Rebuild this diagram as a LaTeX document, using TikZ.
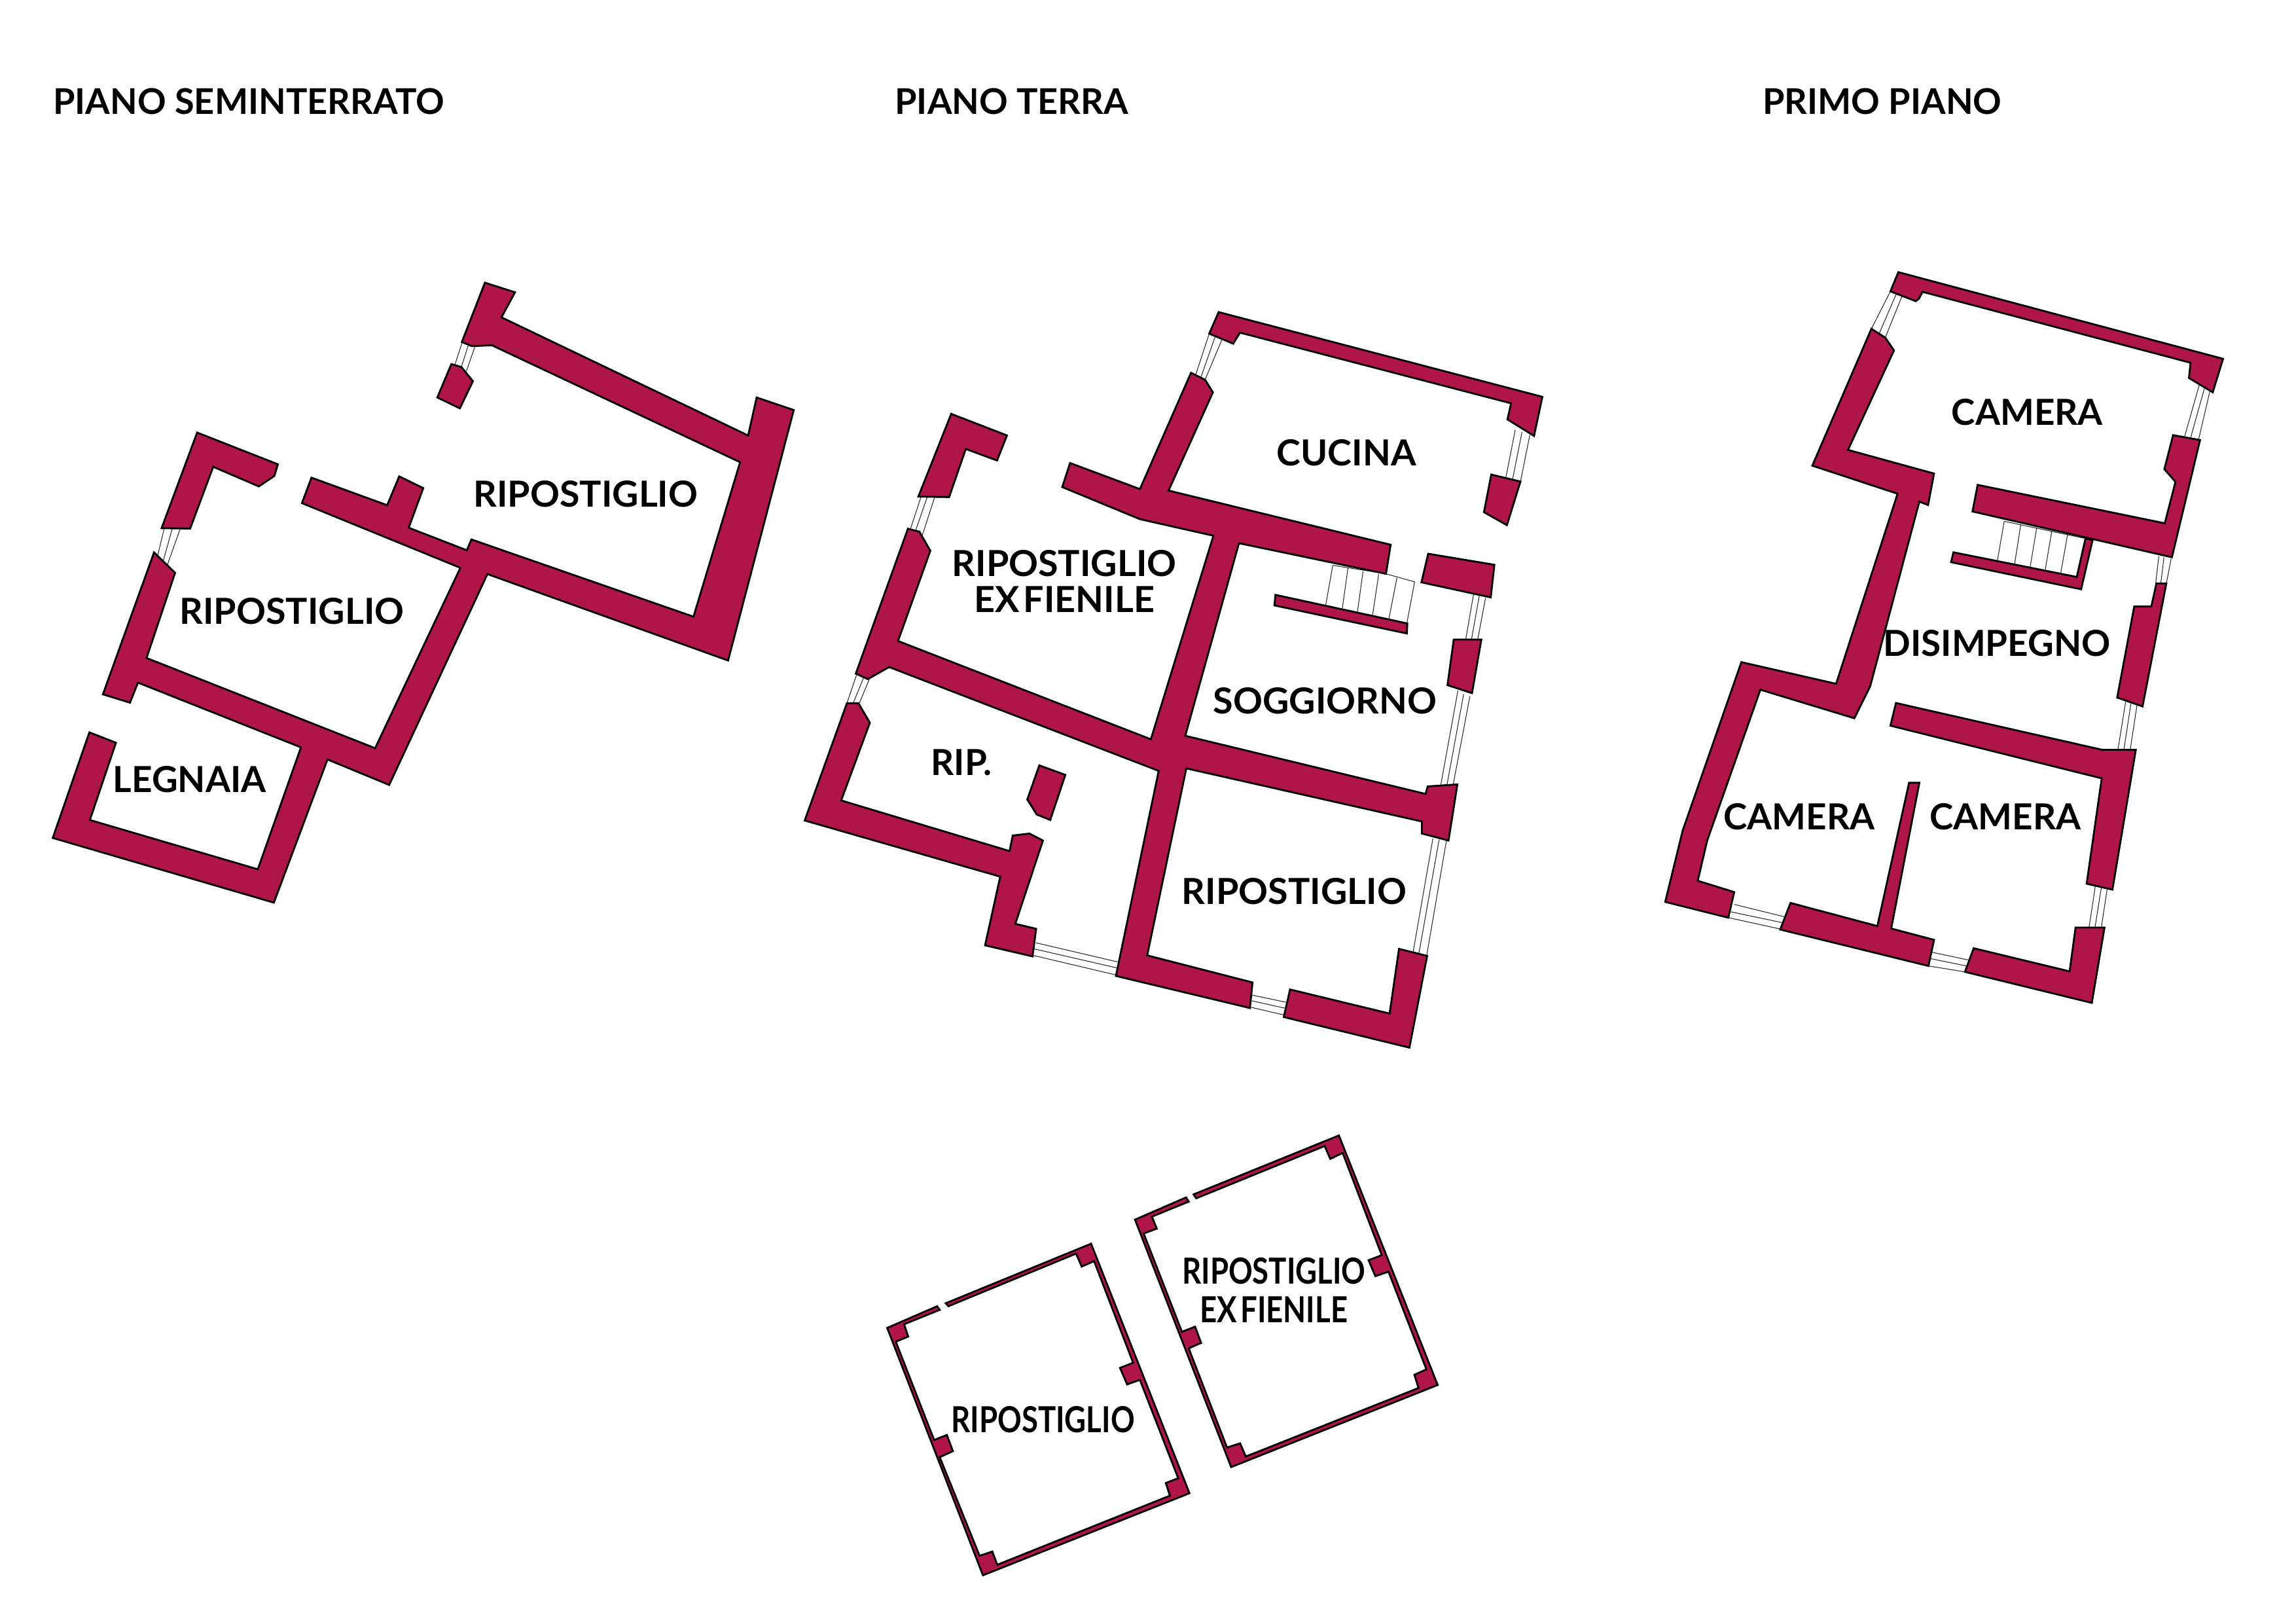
\documentclass[tikz,border=0pt]{standalone}
\usepackage{fontspec}
\setmainfont{Lato}
\definecolor{WallRed}{HTML}{B01548}
\newcommand{\tightspace}{\spaceskip=0.11em\relax}

\begin{document}
\begin{tikzpicture}[
        wall/.style = {draw=black, fill=WallRed, line width=0.8pt},
        glass/.style = {draw=black!85, line width=0.3pt},
        stairline/.style = {draw=black!85, line width=0.3pt},
        title/.style = {anchor=west, font=\bfseries\fontsize{15.4}{18}\selectfont},
        room/.style = {align=center, font=\bfseries\fontsize{15.6}{15.6}\selectfont},
        wideroom/.style = {room, xscale=1.015},
        narrowroom/.style = {align=center, xscale=0.83, font=\bfseries\fontsize{15.6}{16.7}\selectfont}]

    \useasboundingbox (0,0) rectangle (35.08,24.8);

    % Titles
    \node[title] (titleSemi) at (0.69,23.25) {PIANO SEMINTERRATO};
    \node[title] (titleTerra) at (13.55,23.25) {PIANO TERRA};
    \node[title] (titlePrimo) at (26.81,23.25) {PRIMO PIANO};

    % Piano seminterrato
    \begin{scope}[shift={(0.5,20.8)}, x=0.007653cm, y=-0.006378cm]
        \draw[wall] (902,50) -- (962,73) -- (935,133) -- (1427,416) -- (1444,325) -- (1518,355) -- (1387,955) -- (907,748) -- (711,1253) -- (588,1192) -- (481,1535) -- (40,1380) -- (113,1127) -- (166,1152) -- (114,1337) -- (449,1455) -- (535,1163) -- (210,1008) -- (194,1056) -- (140,1036) -- (242,696) -- (284,745) -- (227,949) -- (683,1165) -- (853,733) -- (537,578) -- (556,517) -- (707,583) -- (731,514) -- (779,542) -- (750,637) -- (866,691) -- (875,665) -- (1318,850) -- (1411,480) -- (916,200) -- (876,202) -- (856,192) -- cycle;
        \draw[wall] (835,245) -- (855,252) -- (878,286) -- (852,351) -- (807,325) -- cycle;
        \draw[wall] (328,409) -- (489,485) -- (482,513) -- (451,538) -- (360,491) -- (314,639) -- (257,638) -- cycle;

        % Windows
        \draw[glass] (262,640) -- (249,705) (278,640) -- (260,718) (294,640) -- (268,728);
        \draw[glass] (856,195) -- (842,247) (869,199) -- (855,252) (882,203) -- (865,262);

        \node[wideroom] (ripSemiA) at (1103,556) {RIPOSTIGLIO};
        \node[wideroom] (ripSemiB) at (517,837) {RIPOSTIGLIO};
        \node[room] (legnaia) at (313,1240) {LEGNAIA};
    \end{scope}

    % Piano terra
    \begin{scope}[shift={(12,20.3)}, x=0.007972cm, y=-0.007653cm]
        \draw[wall] (831,35) -- (1452,204) -- (1436,282) -- (1385,249) -- (1392,217) -- (872,76) -- (859,98) -- (813,78) -- cycle;
        \draw[wall] (1354,359) -- (1410,373) -- (1384,460) -- (1340,434) -- cycle;
        \draw[wall] (318,238) -- (425,281) -- (406,331) -- (346,308) -- (314,404) -- (255,403) -- cycle;
        \draw[wall] (778,156) -- (805,170) -- (820,195) -- (735,391) -- (1161,499) -- (1152,557) -- (870,496) -- (767,880) -- (1228,996) -- (1232,981) -- (1289,977) -- (1272,1089) -- (1221,1075) -- (1221,1051) -- (769,945) -- (694,1318) -- (896,1372) -- (891,1423) -- (634,1359) -- (716,950) -- (199,743) -- (158,767) -- (135,756) -- (235,467) -- (257,473) -- (278,511) -- (216,691) -- (701,887) -- (821,481) -- (680,448) -- (531,384) -- (546,336) -- (680,388) -- cycle;
        \draw[wall] (118,815) -- (140,815) -- (162,854) -- (107,1009) -- (430,1110) -- (436,1079) -- (468,1075) -- (494,1089) -- (441,1255) -- (481,1265) -- (474,1320) -- (383,1298) -- (412,1161) -- (37,1049) -- cycle;
        \draw[wall] (487,939) -- (537,958) -- (508,1048) -- (482,1037) -- (464,1007) -- cycle;
        \draw[wall] (968,1386) -- (1159,1434) -- (1177,1305) -- (1231,1319) -- (1197,1502) -- (956,1441) -- cycle;
        \draw[wall] (1233,517) -- (1360,539) -- (1353,604) -- (1220,574) -- cycle;
        \draw[wall] (1282,688) -- (1335,688) -- (1317,795) -- (1270,779) -- cycle;
        \draw[wall] (940,599) -- (1193,656) -- (1192,676) -- (938,620) -- cycle;

        % Stairs
        \draw[stairline] (1050,540) -- (1152,557) (1152,557) -- (1207,573) -- (1192,656);
        \draw[stairline] (1050,540) -- (1036,622) (1079,546) -- (1068,628) (1108,552) -- (1097,635) (1138,558) -- (1126,642) (1173,565) -- (1157,650);

        % Windows
        \draw[glass] (813,78) -- (787,160) (825,82) -- (797,165) (838,88) -- (805,170);
        \draw[glass] (1400,270) -- (1382,365) (1413,274) -- (1395,368) (1428,280) -- (1410,373);
        \draw[glass] (260,404) -- (240,467) (272,404) -- (250,470) (286,405) -- (262,482);
        \draw[glass] (137,757) -- (118,815) (150,764) -- (130,815) (163,762) -- (141,817);
        \draw[glass] (1320,598) -- (1305,688) (1331,601) -- (1316,688) (1343,605) -- (1328,688);
        \draw[glass] (1290,790) -- (1257,979) (1301,797) -- (1269,978) (1313,801) -- (1281,977);
        \draw[glass] (1242,1085) -- (1204,1312) (1254,1087) -- (1215,1315) (1268,1089) -- (1230,1319);
        \draw[glass] (481,1293) -- (637,1331) (477,1305) -- (636,1343) (475,1318) -- (634,1357);
        \draw[glass] (894,1397) -- (963,1412) (892,1408) -- (961,1424) (891,1421) -- (957,1437);

        \node[wideroom] (cucina) at (1076,316) {CUCINA};
        \node[wideroom] (ripFienile) at (535,572) {RIPOSTIGLIO\\\tightspace EX FIENILE};
        \node[wideroom] (soggiorno) at (1035,810) {SOGGIORNO};
        \node[room] (rip) at (338,933) {RIP.};
        \node[wideroom] (ripTerra) at (976,1190) {RIPOSTIGLIO};
    \end{scope}

    % Primo piano
    \begin{scope}[shift={(25.2,20.8)}, x=0.006059cm, y=-0.007526cm]
        \draw[wall] (628,21) -- (1447,197) -- (1421,265) -- (1361,236) -- (1365,205) -- (689,61) -- (680,75) -- (672,80) -- (608,60) -- cycle;
        \draw[wall] (560,136) -- (595,154) -- (617,180) -- (501,382) -- (718,430) -- (703,494) -- (681,487) -- (557,862) -- (517,927) -- (280,869) -- (146,1175) -- (122,1257) -- (214,1280) -- (199,1332) -- (40,1300) -- (84,1155) -- (232,813) -- (471,857) -- (626,471) -- (411,414) -- cycle;
        \draw[wall] (828,453) -- (1300,531) -- (1327,447) -- (1299,421) -- (1321,352) -- (1389,362) -- (1318,600) -- (815,507) -- cycle;
        \draw[wall] (767,590) -- (1078,640) -- (1100,562) -- (1118,565) -- (1089,665) -- (761,610) -- cycle;
        \draw[wall] (1279,653) -- (1304,653) -- (1244,903) -- (1180,885) -- (1223,700) -- (1266,700) -- cycle;
        \draw[wall] (622,896) -- (1142,991) -- (1227,991) -- (1168,1275) -- (1103,1263) -- (1141,1049) -- (608,942) -- cycle;
        \draw[wall] (356,1302) -- (575,1349) -- (655,1058) -- (681,1058) -- (610,1354) -- (718,1377) -- (704,1430) -- (330,1356) -- cycle;
        \draw[wall] (818,1394) -- (1060,1441) -- (1075,1352) -- (1148,1352) -- (1116,1505) -- (796,1442) -- cycle;

        % Stairs
        \draw[stairline] (895,527) -- (1100,562);
        \draw[stairline] (895,527) -- (878,606) (937,533) -- (921,615) (977,540) -- (960,622) (1015,547) -- (998,628) (1055,553) -- (1037,635);

        % Windows
        \draw[glass] (608,60) -- (560,136) (624,63) -- (580,145) (637,70) -- (595,154);
        \draw[glass] (1387,250) -- (1350,355) (1400,257) -- (1365,358) (1414,262) -- (1385,362);
        \draw[glass] (1285,598) -- (1277,653) (1298,600) -- (1290,653) (1316,603) -- (1304,653);
        \draw[glass] (1202,890) -- (1182,990) (1215,895) -- (1197,990) (1230,900) -- (1213,990);
        \draw[glass] (1125,1267) -- (1109,1352) (1140,1270) -- (1124,1352) (1155,1272) -- (1140,1352);
        \draw[glass] (214,1305) -- (340,1330) (205,1320) -- (335,1342) (200,1332) -- (330,1355);
        \draw[glass] (712,1402) -- (805,1418) (708,1415) -- (800,1430) (704,1430) -- (796,1442);

        \node[room] (cameraTop) at (953,305) {CAMERA};
        \node[room] (disimpegno) at (877,775) {DISIMPEGNO};
        \node[room] (cameraLeft) at (378,1127) {CAMERA};
        \node[room] (cameraRight) at (898,1127) {CAMERA};
    \end{scope}

    % Fienile, two rooms
    \begin{scope}[shift={(13.4,7.6)}, x=0.00574cm, y=-0.004592cm]
        \draw[wall] (183,590) -- (570,392) -- (832,1222) -- (282,1495) -- (27,672) -- (160,600) -- (167,612) -- (72,660) -- (83,701) -- (50,718) -- (152,1045) -- (186,1028) -- (202,1082) -- (167,1102) -- (273,1430) -- (307,1416) -- (320,1460) -- (780,1230) -- (769,1188) -- (802,1172) -- (700,845) -- (666,860) -- (647,805) -- (682,788) -- (578,450) -- (545,468) -- (530,425) -- (190,600) -- cycle;
        \draw[wall] (843,228) -- (1230,32) -- (1493,862) -- (943,1135) -- (687,312) -- (823,238) -- (830,252) -- (732,302) -- (745,342) -- (710,358) -- (812,685) -- (847,668) -- (863,722) -- (830,740) -- (932,1070) -- (967,1056) -- (982,1100) -- (1442,872) -- (1431,828) -- (1463,810) -- (1362,485) -- (1327,500) -- (1309,447) -- (1344,430) -- (1240,90) -- (1207,110) -- (1192,67) -- (850,241) -- cycle;

        \node[narrowroom] (ripFienileLow) at (1057,547) {RIPOSTIGLIO\\\tightspace EX FIENILE};
        \node[narrowroom] (ripLow) at (442,977) {RIPOSTIGLIO};
    \end{scope}

\end{tikzpicture}
\end{document}
